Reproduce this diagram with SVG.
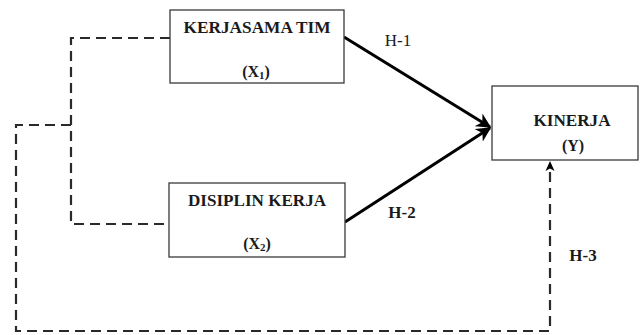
<svg xmlns="http://www.w3.org/2000/svg" width="642" height="335" viewBox="0 0 642 335">
  <style>
    .box { fill: #ffffff; stroke: #3a3a3a; stroke-width: 1.3; }
    .lbl { font-family: "Liberation Serif", "Times New Roman", serif; font-weight: bold; font-size: 16px; fill: #1a1a1a; text-anchor: middle; }
    .hyp { font-size: 17px; }
    .sub { font-size: 11px; }
    .solid { fill: none; stroke: #000; stroke-width: 3; }
    .dash { fill: none; stroke: #2a2a2a; stroke-width: 2.2; stroke-dasharray: 10 6; }
  </style>
  <defs>
    <marker id="head" viewBox="0 0 10 10" refX="9" refY="5" markerWidth="5" markerHeight="5" orient="auto" markerUnits="strokeWidth">
      <path d="M0,0 L10,5 L0,10 L3,5 Z" fill="#000"/>
    </marker>
  </defs>

  <rect width="642" height="335" fill="#ffffff"/>

  <g id="connectors">
    <path class="solid" d="M344,37 L490,127" marker-end="url(#head)"/>
    <path class="solid" d="M345,222 L490,128" marker-end="url(#head)"/>
    <path class="dash" d="M170,38 H71 V224 H169"/>
    <path class="dash" d="M71,125 H16 V331 H550 V168"/>
    <path d="M550,161 L545.5,171 L550,168.5 L554.5,171 Z" fill="#000"/>
    <text class="lbl hyp" x="398" y="46" style="font-weight:normal">H-1</text>
    <text class="lbl hyp" x="402" y="218">H-2</text>
    <text class="lbl hyp" x="583" y="261">H-3</text>
  </g>

  <g id="kerjasama">
    <rect class="box" x="170" y="10" width="174" height="73"/>
    <text class="lbl" x="257" y="33" textLength="147" lengthAdjust="spacingAndGlyphs">KERJASAMA TIM</text>
    <text class="lbl" x="256" y="77">(X<tspan class="sub" dy="2">1</tspan><tspan dy="-2">)</tspan></text>
  </g>

  <g id="disiplin">
    <rect class="box" x="169" y="183" width="176" height="74"/>
    <text class="lbl" x="257" y="206" textLength="138" lengthAdjust="spacingAndGlyphs">DISIPLIN KERJA</text>
    <text class="lbl" x="257" y="249">(X<tspan class="sub" dy="2">2</tspan><tspan dy="-2">)</tspan></text>
  </g>

  <g id="kinerja">
    <rect class="box" x="492" y="86" width="146" height="74"/>
    <text class="lbl" x="572" y="126" textLength="77" lengthAdjust="spacingAndGlyphs">KINERJA</text>
    <text class="lbl" x="573" y="151">(Y)</text>
  </g>
</svg>
